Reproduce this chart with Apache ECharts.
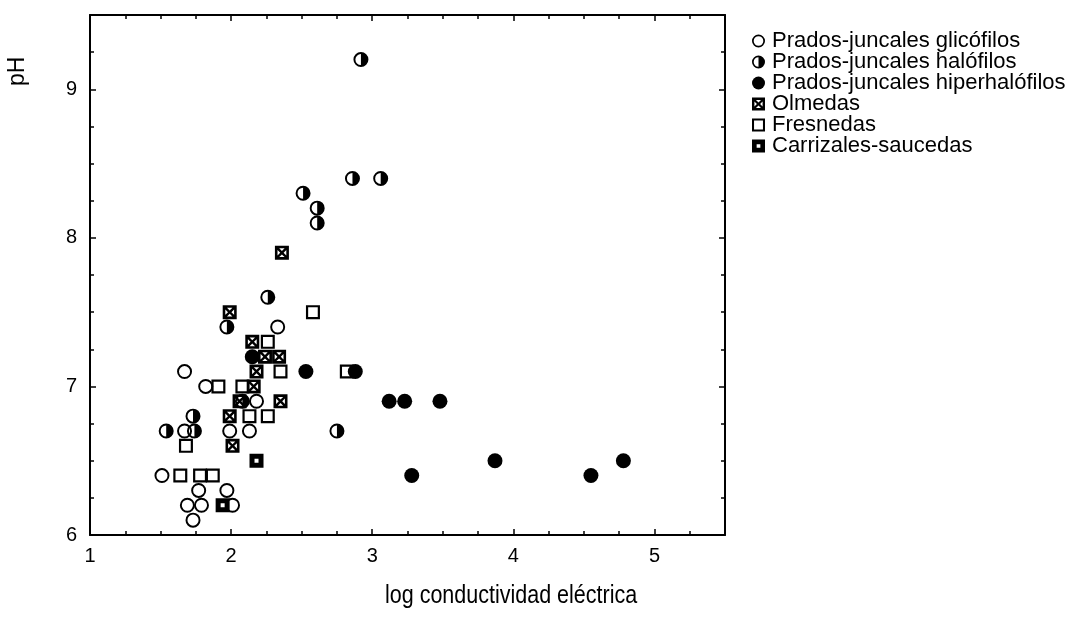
<!DOCTYPE html>
<html>
<head>
<meta charset="utf-8">
<script src="https://cdn.jsdelivr.net/npm/echarts@6/dist/echarts.min.js"></script>
<style>
html,body{margin:0;padding:0;background:#fff;}
#c{width:1075px;height:619px;}
</style>
</head>
<body>
<div id="c"></div>
<script>
// ---- data (x = log conductividad eléctrica, y = pH) ----
const seriesNames = ['Prados-juncales glicófilos','Prados-juncales halófilos','Prados-juncales hiperhalófilos','Olmedas','Fresnedas','Carrizales-saucedas'];
const glicofilos = [[1.67,7.1],[2.33,7.4],[1.82,7.0],[2.18,6.9],[1.67,6.7],[1.99,6.7],[2.13,6.7],[1.51,6.4],[1.77,6.3],[1.97,6.3],[1.69,6.2],[1.79,6.2],[2.01,6.2],[1.73,6.1]];
const halofilos = [[2.92,9.2],[2.86,8.4],[3.06,8.4],[2.51,8.3],[2.61,8.2],[2.61,8.1],[2.26,7.6],[1.97,7.4],[2.08,6.9],[1.73,6.8],[1.54,6.7],[1.74,6.7],[2.75,6.7]];
const hiperhalofilos = [[2.15,7.2],[2.53,7.1],[2.88,7.1],[3.12,6.9],[3.23,6.9],[3.48,6.9],[3.28,6.4],[3.87,6.5],[4.55,6.4],[4.78,6.5]];
const olmedas = [[2.36,7.9],[1.99,7.5],[2.15,7.3],[2.24,7.2],[2.34,7.2],[2.18,7.1],[2.16,7.0],[2.35,6.9],[2.06,6.9],[1.99,6.8],[2.01,6.6]];
const fresnedas = [[2.58,7.5],[2.26,7.3],[2.35,7.1],[1.91,7.0],[2.08,7.0],[2.13,6.8],[2.26,6.8],[1.68,6.6],[1.64,6.4],[1.78,6.4],[1.87,6.4],[2.82,7.1]];
const carrizales = [[2.18,6.5],[1.94,6.2]];
const xTicks = [1,2,3,4,5];
const yTicks = [6,7,8,9];

// ---- symbols ----
const SYM = {
  open: 'path://M10,0 A10,10 0 1,1 10,20 A10,10 0 1,1 10,0 Z M10,2.6 A7.4,7.4 0 1,0 10,17.4 A7.4,7.4 0 1,0 10,2.6 Z',
  half: 'path://M10,0 A10,10 0 1,1 10,20 A10,10 0 1,1 10,0 Z M10,2.6 A7.4,7.4 0 0,0 10,17.4 L10,2.6 Z',
  full: 'circle',
  olm: 'path://M0,0 L14,0 L14,14 L0,14 Z M4.3,2.6 L7,5.3 L9.7,2.6 Z M11.4,4.3 L8.7,7 L11.4,9.7 Z M4.3,11.4 L9.7,11.4 L7,8.7 Z M2.6,4.3 L2.6,9.7 L5.3,7 Z',
  fres: 'path://M0,0 L14,0 L14,14 L0,14 Z M2.2,2.2 L2.2,11.8 L11.8,11.8 L11.8,2.2 Z',
  carr: 'path://M0,0 L14,0 L14,14 L0,14 Z M5,5 L5,9 L9,9 L9,5 Z'
};
const FONT = '"Liberation Sans", Arial, sans-serif';

function mk(name, data, symbol, size) {
  return {
    name, type: 'scatter', data, symbol, symbolSize: size,
    xAxisIndex: 0, yAxisIndex: 0,
    itemStyle: { color: '#000', opacity: 1 },
    emphasis: { disabled: true }
  };
}

const axisCommon = {
  type: 'value',
  interval: 1,
  axisLine: { show: true, onZero: false, lineStyle: { color: '#000', width: 2 } },
  axisTick: { show: true, inside: true, length: 6, lineStyle: { color: '#000', width: 1.5 } },
  minorTick: { show: true, splitNumber: 4, length: 4, lineStyle: { color: '#000', width: 1.5 } },
  splitLine: { show: false },
  minorSplitLine: { show: false }
};

const chart = echarts.init(document.getElementById('c'), null, { renderer: 'canvas' });
chart.setOption({
  animation: false,
  backgroundColor: '#fff',
  grid: { left: 90, right: 350, top: 15, bottom: 84 },
  xAxis: [
    Object.assign({}, axisCommon, { position: 'bottom', min: 1, max: 5.5,
      axisLabel: { show: true, color: '#000', fontFamily: FONT, fontSize: 20, margin: 11,
        formatter: v => xTicks.includes(v) ? String(v) : '' } }),
    Object.assign({}, axisCommon, { position: 'top', min: 1, max: 5.5, axisLabel: { show: false } })
  ],
  yAxis: [
    Object.assign({}, axisCommon, { position: 'left', min: 6, max: 9.5,
      axisLabel: { show: true, color: '#000', fontFamily: FONT, fontSize: 20, margin: 13,
        formatter: v => yTicks.includes(v) ? String(v) : '' } }),
    Object.assign({}, axisCommon, { position: 'right', min: 6, max: 9.5, axisLabel: { show: false } })
  ],
  legend: {
    orient: 'vertical', left: 747, top: 25, itemGap: -1, itemWidth: 13, itemHeight: 13,
    textStyle: { color: '#000', fontFamily: FONT, fontSize: 22, lineHeight: 20, padding: [0,0,0,2] },
    data: seriesNames
  },
  graphic: [
    { type: 'text', left: 385, top: 584, scaleX: 0.86, style: { text: 'log conductividad eléctrica', fill: '#000', font: '25px ' + FONT } },
    { type: 'text', x: 6, y: 86, rotation: Math.PI / 2, style: { text: 'pH', fill: '#000', font: '23px ' + FONT } }
  ],
  series: [
    mk(seriesNames[4], fresnedas, SYM.fres, 14),
    mk(seriesNames[3], olmedas, SYM.olm, 14),
    mk(seriesNames[5], carrizales, SYM.carr, 14),
    mk(seriesNames[0], glicofilos, SYM.open, 15),
    mk(seriesNames[1], halofilos, SYM.half, 15),
    mk(seriesNames[2], hiperhalofilos, SYM.full, 15)
  ]
});
</script>
</body>
</html>
